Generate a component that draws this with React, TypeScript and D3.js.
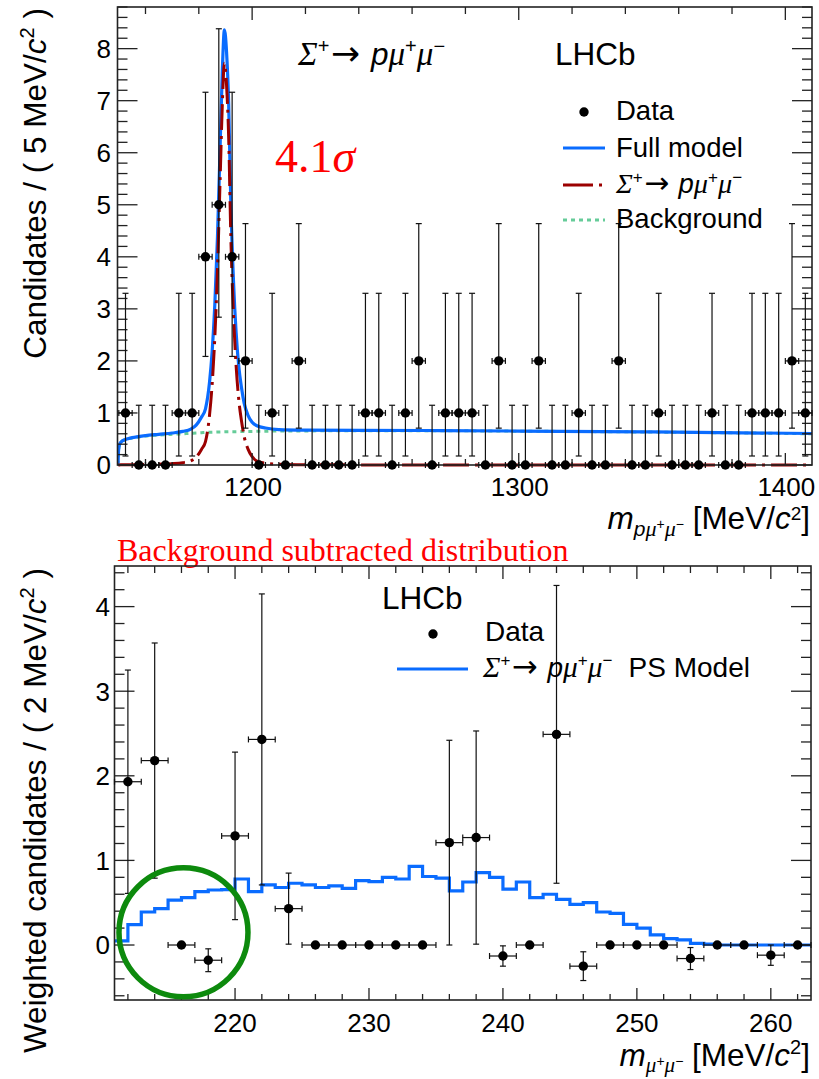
import React from "react";
import * as d3 from "d3";

// ---------------- Top panel data ----------------
const topBinWidth = 5;
const topFirstCenter = 1152.5;
const topCounts = [1, 0, 0, 0, 1, 1, 4, 5, 4, 2, 0, 1, 0, 2, 0, 0, 0, 0, 1, 1, 0, 1, 2, 0, 1, 1, 1, 0, 2, 0, 0, 2, 0, 0, 1, 0, 0, 2, 0, 0, 1, 0, 0, 0, 1, 0, 0, 1, 1, 1, 2, 1];
const poissonLow: Record<number, number> = { 0: 0, 1: 0.827, 2: 1.292, 3: 1.633, 4: 1.914, 5: 2.16 };
const poissonHigh: Record<number, number> = { 0: 1.148, 1: 2.299, 2: 2.638, 3: 2.918, 4: 3.162, 5: 3.382 };

const modelMass = [1149.7, 1149.9, 1150.3, 1151, 1152, 1155, 1160, 1165, 1170, 1174, 1177, 1179, 1181, 1182.5, 1184, 1185, 1186, 1187, 1188, 1188.8, 1189.6, 1190.4, 1191.2, 1192, 1193, 1194, 1195, 1196, 1197, 1198.5, 1200, 1202, 1205, 1210, 1220, 1240, 1270, 1300, 1350, 1410];
const fullModel = [0, 0.28, 0.4, 0.45, 0.48, 0.525, 0.565, 0.59, 0.615, 0.645, 0.69, 0.765, 0.92, 1.08, 1.58, 2.18, 3.08, 4.38, 6.13, 7.54, 8.36, 7.94, 6.94, 5.04, 3.54, 2.54, 1.89, 1.49, 1.19, 0.95, 0.82, 0.75, 0.71, 0.68, 0.67, 0.665, 0.662, 0.652, 0.635, 0.605];
const signalModel = [0, 0.002, 0.002, 0.003, 0.003, 0.005, 0.008, 0.015, 0.025, 0.045, 0.08, 0.15, 0.3, 0.45, 0.95, 1.55, 2.45, 3.75, 5.5, 6.9, 7.72, 7.3, 6.3, 4.4, 2.9, 1.9, 1.25, 0.85, 0.55, 0.3, 0.16, 0.07, 0.035, 0.015, 0.006, 0.002, 0.001, 0, 0, 0];
const bkgModel = [0, 0.28, 0.4, 0.45, 0.48, 0.52, 0.555, 0.575, 0.59, 0.6, 0.61, 0.615, 0.62, 0.625, 0.628, 0.63, 0.632, 0.634, 0.635, 0.636, 0.637, 0.638, 0.639, 0.64, 0.64, 0.641, 0.642, 0.643, 0.644, 0.645, 0.646, 0.648, 0.65, 0.653, 0.655, 0.658, 0.658, 0.65, 0.633, 0.6];

const topXTicks = [1200, 1300, 1400];
const topYTicks = [0, 1, 2, 3, 4, 5, 6, 7, 8];

// ---------------- Bottom panel data ----------------
const botCenters = [212, 214, 216, 218, 220, 222, 224, 226, 228, 230, 232, 234, 236, 238, 240, 242, 244, 246, 248, 250, 252, 254, 256, 258, 260, 262];
const botValues = [1.93, 2.18, 0, -0.18, 1.29, 2.43, 0.43, 0, 0, 0, 0, 0, 1.21, 1.27, -0.13, 0, 2.49, -0.25, 0, 0, 0, -0.16, 0, 0, -0.12, 0];
const botErrors = [1.32, 1.39, 0, 0.135, 0.99, 1.72, 0.42, 0, 0, 0, 0, 0, 1.21, 1.26, 0.12, 0, 1.76, 0.17, 0, 0, 0, 0.13, 0, 0, 0.12, 0];
const botHalfWidth = 1;

const psFirstEdge = 211;
const psValues = [0.05, 0.24, 0.39, 0.43, 0.53, 0.56, 0.63, 0.65, 0.655, 0.78, 0.63, 0.71, 0.68, 0.73, 0.71, 0.68, 0.7, 0.67, 0.76, 0.75, 0.8, 0.78, 0.93, 0.81, 0.79, 0.64, 0.745, 0.855, 0.8, 0.66, 0.745, 0.56, 0.6, 0.54, 0.48, 0.5, 0.39, 0.375, 0.245, 0.2, 0.12, 0.075, 0.06, 0.02, 0.01, 0, 0, 0, 0, 0, 0, 0];

const botXTicks = [220, 230, 240, 250, 260];
const botYTicks = [0, 1, 2, 3, 4];

// ---------------- Layout ----------------
const W = 819;
const H = 1079;
const SANS = "'Liberation Sans', Arial, Helvetica, sans-serif";
const SERIF = "'Liberation Serif', 'Times New Roman', serif";
const ARROWF = "'DejaVu Sans', sans-serif";
const BLUE = "#0a6cff";
const RED = "#9b0000";
const GREEN = "#66cc99";

const topF = { l: 117.5, r: 812, t: 7, b: 465 };
const botF = { l: 114.5, r: 811, t: 566, b: 1000 };

const xTop = d3.scaleLinear().domain([1149.5, 1410]).range([topF.l, topF.r]);
const yTop = d3.scaleLinear().domain([0, 8.8]).range([topF.b, topF.t]);
const xBot = d3.scaleLinear().domain([211, 263]).range([botF.l, botF.r]);
const yBot = d3.scaleLinear().domain([-0.65, 4.48]).range([botF.b, botF.t]);

type Frame = { l: number; r: number; t: number; b: number };

function AxesFrame({ f, x, y, xMajor, xMinor, yMajor, yMinor }: { f: Frame; x: any; y: any; xMajor: number[]; xMinor: number[]; yMajor: number[]; yMinor: number[] }) {
  const col = "#222";
  const sw = 1.3;
  const els: any[] = [];
  xMinor.forEach((v, i) => {
    const px = x(v);
    els.push(<line key={"xmb" + i} x1={px} x2={px} y1={f.b} y2={f.b - 6} stroke={col} strokeWidth={sw} />);
    els.push(<line key={"xmt" + i} x1={px} x2={px} y1={f.t} y2={f.t + 7} stroke={col} strokeWidth={sw} />);
  });
  xMajor.forEach((v, i) => {
    const px = x(v);
    els.push(<line key={"xMb" + i} x1={px} x2={px} y1={f.b} y2={f.b - 12} stroke={col} strokeWidth={sw} />);
    els.push(<line key={"xMt" + i} x1={px} x2={px} y1={f.t} y2={f.t + 13} stroke={col} strokeWidth={sw} />);
  });
  yMinor.forEach((v, i) => {
    const py = y(v);
    els.push(<line key={"yml" + i} x1={f.l} x2={f.l + 10} y1={py} y2={py} stroke={col} strokeWidth={sw} />);
    els.push(<line key={"ymr" + i} x1={f.r} x2={f.r - 10} y1={py} y2={py} stroke={col} strokeWidth={sw} />);
  });
  yMajor.forEach((v, i) => {
    const py = y(v);
    els.push(<line key={"yMl" + i} x1={f.l} x2={f.l + 20} y1={py} y2={py} stroke={col} strokeWidth={sw} />);
    els.push(<line key={"yMr" + i} x1={f.r} x2={f.r - 20} y1={py} y2={py} stroke={col} strokeWidth={sw} />);
  });
  els.push(<rect key="frame" x={f.l} y={f.t} width={f.r - f.l} height={f.b - f.t} fill="none" stroke={col} strokeWidth={1.6} />);
  return <g>{els}</g>;
}

function ErrPoint({ cx, cy, x1, x2, y1, y2 }: { cx: number; cy: number; x1: number; x2: number; y1: number; y2: number }) {
  const col = "#111";
  const sw = 1.2;
  const cap = 3;
  return (
    <g>
      {Math.abs(y2 - y1) > 0.5 && (
        <g>
          <line x1={cx} x2={cx} y1={y1} y2={y2} stroke={col} strokeWidth={sw} />
          <line x1={cx - cap} x2={cx + cap} y1={y1} y2={y1} stroke={col} strokeWidth={sw} />
          <line x1={cx - cap} x2={cx + cap} y1={y2} y2={y2} stroke={col} strokeWidth={sw} />
        </g>
      )}
      <line x1={x1} x2={x2} y1={cy} y2={cy} stroke={col} strokeWidth={sw} />
      <line x1={x1} x2={x1} y1={cy - cap} y2={cy + cap} stroke={col} strokeWidth={sw} />
      <line x1={x2} x2={x2} y1={cy - cap} y2={cy + cap} stroke={col} strokeWidth={sw} />
      <circle cx={cx} cy={cy} r={4.7} fill="#000" />
    </g>
  );
}

function Decay({ size, tail }: { size: number; tail?: string }) {
  const sup = Math.round(size * 0.62);
  const d = Math.round(size * 0.38);
  return (
    <>
      <tspan fontFamily={SERIF} fontStyle="italic" fontSize={size * 1.05}>Σ</tspan>
      <tspan fontSize={sup} dy={-d}>+</tspan>
      <tspan dy={d} dx={size * 0.05} fontFamily={ARROWF} fontSize={size * 1.1}>→</tspan>
      <tspan dx={size * 0.35} fontStyle="italic">p</tspan>
      <tspan fontFamily={SERIF} fontStyle="italic" fontSize={size * 1.05}>μ</tspan>
      <tspan fontSize={sup} dy={-d}>+</tspan>
      <tspan dy={d} fontFamily={SERIF} fontStyle="italic" fontSize={size * 1.05}>μ</tspan>
      <tspan fontSize={sup} dy={-d}>−</tspan>
      {tail ? <tspan dy={d} dx={size * 0.3}>{tail}</tspan> : null}
    </>
  );
}

export default function App() {
  const lineTop = (vals: number[]) =>
    d3
      .line<number>()
      .x((_, i) => xTop(modelMass[i]))
      .y((v) => yTop(v))
      .curve(d3.curveMonotoneX)(vals) as string;

  const psPts: [number, number][] = psValues.map((v, i) => [psFirstEdge + i, v]);
  psPts.push([psFirstEdge + psValues.length, psValues[psValues.length - 1]]);
  const psPath = d3
    .line<[number, number]>()
    .x((d) => xBot(d[0]))
    .y((d) => yBot(d[1]))
    .curve(d3.curveStepAfter)(psPts) as string;

  const topMinorX = d3.range(1160, 1411, 20).filter((v) => !topXTicks.includes(v));
  const topMinorY = d3.range(0, 8.81, 0.2).filter((v) => Math.abs(v - Math.round(v)) > 0.01);
  const botMinorX = d3.range(212, 263, 2).filter((v) => !botXTicks.includes(v));
  const botMinorY = d3.range(-0.6, 4.41, 0.2).filter((v) => Math.abs(v - Math.round(v)) > 0.01);

  const tickFont = 26;
  const titleFont = 31.5;

  return (
    <svg width={W} height={H} style={{ position: "absolute", left: 0, top: 0, background: "#fff" }} fontFamily={SANS}>
      <defs>
        <clipPath id="clipTop">
          <rect x={topF.l} y={topF.t} width={topF.r - topF.l} height={topF.b - topF.t + 3} />
        </clipPath>
        <clipPath id="clipBot">
          <rect x={botF.l} y={botF.t} width={botF.r - botF.l} height={botF.b - botF.t} />
        </clipPath>
      </defs>
      <rect x={0} y={0} width={W} height={H} fill="#fff" />

      {/* ================= TOP PANEL ================= */}
      <g clipPath="url(#clipTop)">
        <path d={lineTop(bkgModel)} fill="none" stroke={GREEN} strokeWidth={3} strokeDasharray="4,4" />
        <path d={lineTop(fullModel)} fill="none" stroke={BLUE} strokeWidth={3.2} />
        <path d={lineTop(signalModel)} fill="none" stroke={RED} strokeWidth={3} strokeDasharray="26,6,3,6" />
      </g>
      <AxesFrame f={topF} x={xTop} y={yTop} xMajor={topXTicks} xMinor={topMinorX} yMajor={topYTicks} yMinor={topMinorY} />
      <g>
        {topCounts.map((n, i) => {
          const c = topFirstCenter + i * topBinWidth;
          return (
            <ErrPoint
              key={"tp" + i}
              cx={xTop(c)}
              cy={yTop(n)}
              x1={xTop(c - topBinWidth / 2)}
              x2={xTop(c + topBinWidth / 2)}
              y1={yTop(n - poissonLow[n])}
              y2={yTop(n + poissonHigh[n])}
            />
          );
        })}
      </g>
      {topYTicks.map((v) => (
        <text key={"tyl" + v} x={111} y={yTop(v) + 9.3} fontSize={tickFont} textAnchor="end" fill="#000">
          {v}
        </text>
      ))}
      {topXTicks.map((v) => (
        <text key={"txl" + v} x={xTop(v) + 1} y={496} fontSize={tickFont} textAnchor="middle" fill="#000">
          {v}
        </text>
      ))}
      <text transform="rotate(-90)" x={-8} y={46} fontSize={titleFont} textAnchor="end" fill="#000">
        <tspan>Candidates / ( 5 MeV/</tspan>
        <tspan fontStyle="italic">c</tspan>
        <tspan fontSize={20} dy={-12}>2</tspan>
        <tspan dy={12}> )</tspan>
      </text>
      <text x={810} y={529} fontSize={titleFont} textAnchor="end" fill="#000">
        <tspan fontStyle="italic">m</tspan>
        <tspan fontSize={21} dy={7} fontStyle="italic">p</tspan>
        <tspan fontSize={22} fontFamily={SERIF} fontStyle="italic">μ</tspan>
        <tspan fontSize={14} dy={-7}>+</tspan>
        <tspan fontSize={22} dy={7} fontFamily={SERIF} fontStyle="italic">μ</tspan>
        <tspan fontSize={14} dy={-7}>−</tspan>
        <tspan> [MeV/</tspan>
        <tspan fontStyle="italic">c</tspan>
        <tspan fontSize={19} dy={-9}>2</tspan>
        <tspan dy={9}>]</tspan>
      </text>
      <text x={298} y={65} fontSize={titleFont} fill="#000">
        <Decay size={titleFont} />
      </text>
      <text x={555} y={65} fontSize={titleFont} fill="#000">LHCb</text>
      <text x={275} y={172} fontSize={46} fontFamily={SERIF} fill="#ff0000">
        4.1<tspan fontStyle="italic">σ</tspan>
      </text>

      {/* top legend */}
      <circle cx={584} cy={112} r={4.7} fill="#000" />
      <text x={616} y={120} fontSize={27.5} fill="#000">Data</text>
      <line x1={563} x2={605} y1={148} y2={148} stroke={BLUE} strokeWidth={3.2} />
      <text x={616} y={157} fontSize={27.5} fill="#000">Full model</text>
      <line x1={563} x2={605} y1={185} y2={185} stroke={RED} strokeWidth={3} strokeDasharray="30,6,3,50" />
      <text x={616} y={193} fontSize={27.5} fill="#000">
        <Decay size={27} />
      </text>
      <line x1={563} x2={605} y1={220} y2={220} stroke={GREEN} strokeWidth={3} strokeDasharray="4,4" />
      <text x={616} y={228} fontSize={27.5} fill="#000">Background</text>

      {/* ================= BOTTOM PANEL ================= */}
      <text x={117} y={561} fontSize={32} fontFamily={SERIF} fill="#ff0000">Background subtracted distribution</text>
      <g clipPath="url(#clipBot)">
        <path d={psPath} fill="none" stroke={BLUE} strokeWidth={3.2} />
      </g>
      <AxesFrame f={botF} x={xBot} y={yBot} xMajor={botXTicks} xMinor={botMinorX} yMajor={botYTicks} yMinor={botMinorY} />
      <g>
        {botCenters.map((c, i) => (
          <ErrPoint
            key={"bp" + i}
            cx={xBot(c)}
            cy={yBot(botValues[i])}
            x1={xBot(c - botHalfWidth)}
            x2={xBot(c + botHalfWidth)}
            y1={yBot(botValues[i] - botErrors[i])}
            y2={yBot(botValues[i] + botErrors[i])}
          />
        ))}
      </g>
      {botYTicks.map((v) => (
        <text key={"byl" + v} x={110} y={yBot(v) + 9.3} fontSize={tickFont} textAnchor="end" fill="#000">
          {v}
        </text>
      ))}
      {botXTicks.map((v) => (
        <text key={"bxl" + v} x={xBot(v)} y={1032} fontSize={tickFont} textAnchor="middle" fill="#000">
          {v}
        </text>
      ))}
      <text transform="rotate(-90)" x={-568} y={46} fontSize={titleFont} textAnchor="end" fill="#000">
        <tspan>Weighted candidates / ( 2 MeV/</tspan>
        <tspan fontStyle="italic">c</tspan>
        <tspan fontSize={20} dy={-12}>2</tspan>
        <tspan dy={12}> )</tspan>
      </text>
      <text x={810} y={1066} fontSize={titleFont} textAnchor="end" fill="#000">
        <tspan fontStyle="italic">m</tspan>
        <tspan fontSize={21} dy={6} fontFamily={SERIF} fontStyle="italic">μ</tspan>
        <tspan fontSize={14} dy={-6}>+</tspan>
        <tspan fontSize={21} dy={6} fontFamily={SERIF} fontStyle="italic">μ</tspan>
        <tspan fontSize={14} dy={-6}>−</tspan>
        <tspan> [MeV/</tspan>
        <tspan fontStyle="italic">c</tspan>
        <tspan fontSize={20} dy={-12}>2</tspan>
        <tspan dy={12}>]</tspan>
      </text>
      <text x={382} y={609} fontSize={titleFont} fill="#000">LHCb</text>
      <circle cx={433} cy={634} r={4.7} fill="#000" />
      <text x={485} y={641} fontSize={28} fill="#000">Data</text>
      <line x1={397} x2={468} y1={669} y2={669} stroke={BLUE} strokeWidth={3.2} />
      <text x={483} y={677} fontSize={28} fill="#000">
        <Decay size={28} tail=" PS Model" />
      </text>

      {/* annotation circle */}
      <circle cx={xBot(216.15)} cy={yBot(0.15)} r={64.5} fill="none" stroke="#0d8a0d" strokeWidth={5.5} />
    </svg>
  );
}
